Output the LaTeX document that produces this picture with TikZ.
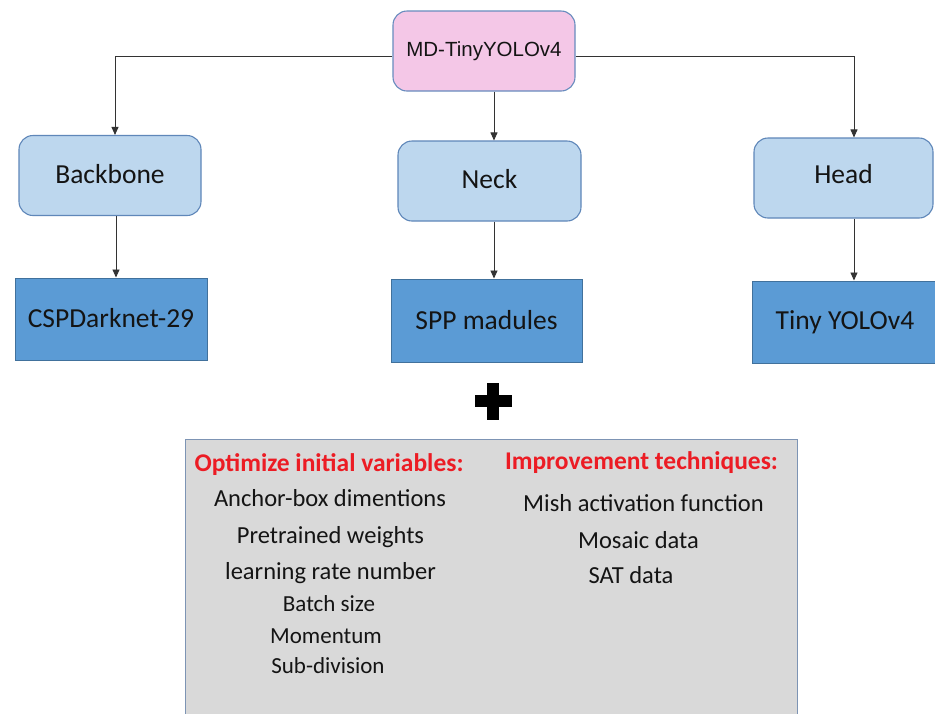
\documentclass[tikz,border=0pt]{standalone}
\usepackage{fontspec}
\setmainfont{Carlito}
\newfontfamily\arialf{Liberation Sans}
\usetikzlibrary{arrows.meta}
\definecolor{pinkfill}{RGB}{244,199,231}
\definecolor{pinkdraw}{RGB}{104,140,190}
\definecolor{lightfill}{RGB}{189,215,238}
\definecolor{lightdraw}{RGB}{95,135,185}
\definecolor{darkfill}{RGB}{91,155,213}
\definecolor{darkdraw}{RGB}{65,113,156}
\definecolor{grayfill}{RGB}{217,217,217}
\definecolor{graydraw}{RGB}{125,148,180}
\definecolor{headred}{RGB}{236,28,36}
\definecolor{txt}{RGB}{20,20,20}
\tikzset{
  topbox/.style={draw=pinkdraw, fill=pinkfill, line width=1.1pt, rounded corners=14pt,
    minimum width=182pt, minimum height=80pt, inner sep=0pt,
    font=\arialf\fontsize{20.5}{24}\selectfont, text=txt},
  midbox/.style={draw=lightdraw, fill=lightfill, line width=1.1pt, rounded corners=14pt,
    minimum height=80pt, inner sep=0pt,
    font=\fontsize{27.5}{32}\selectfont, text=txt},
  lowbox/.style={draw=darkdraw, fill=darkfill, line width=1pt,
    minimum height=82pt, inner sep=0pt,
    font=\fontsize{27.5}{32}\selectfont, text=txt},
  panel/.style={draw=graydraw, fill=grayfill, line width=1pt, inner sep=0pt},
  head/.style={anchor=base, inner sep=0pt, text=headred, font=\bfseries\fontsize{25.5}{30}\selectfont},
  item/.style={anchor=base, inner sep=0pt, text=txt, font=\fontsize{24.5}{29}\selectfont},
  smallitem/.style={anchor=base, inner sep=0pt, text=txt, font=\fontsize{23}{27}\selectfont},
  conn/.style={draw=black!80, line width=0.9pt},
  arr/.style={conn, -{Triangle[length=8pt,width=7pt]}},
}
\begin{document}
\begin{tikzpicture}[x=1pt,y=-1pt]
\useasboundingbox (0,0) rectangle (935,713);
\fill[white] (0,0) rectangle (935,713);

% top node
\node[topbox] (top) at (484,51) {\raisebox{1pt}{MD-TinyYOLOv4}};

% middle nodes
\node[midbox, minimum width=182pt] (backbone) at (110,175.5) {\raisebox{3.5pt}{Backbone}};
\node[midbox, minimum width=183pt] (neck) at (489.5,181) {\raisebox{4pt}{Neck}};
\node[midbox, minimum width=179pt] (headn) at (843.5,178) {\raisebox{8pt}{Head}};

% bottom nodes
\node[lowbox, minimum width=192pt] (csp) at (111,319) {\raisebox{2pt}{CSPDarknet-29}};
\node[lowbox, minimum width=191pt, minimum height=83pt] (spp) at (486.5,320.5) {\raisebox{1.5pt}{SPP madules}};
\node[lowbox, minimum width=186pt] (tiny) at (845,322) {\raisebox{2pt}{Tiny YOLOv4}};

% connectors
\draw[arr] ([yshift=-5pt]top.west) -| ([xshift=5pt]backbone.north);
\draw[arr] ([yshift=-5pt]top.east) -| ([xshift=10.5pt]headn.north);
\draw[arr] ([xshift=4.5pt]neck.north |- top.south) -- ([xshift=4.5pt]neck.north);
\draw[arr] ([xshift=6pt]backbone.south) -- ([xshift=6pt]backbone.south |- csp.north);
\draw[arr] ([xshift=4.5pt]neck.south) -- ([xshift=4.5pt]neck.south |- spp.north);
\draw[arr] ([xshift=10.5pt]headn.south) -- ([xshift=10.5pt]headn.south |- tiny.north);

% plus sign
\fill[black] (475,395) rectangle (512,407);
\fill[black] (487,383) rectangle (499,420);

% gray panel
\node[panel, minimum width=612pt, minimum height=290pt] (panel) at (491,584) {};

\node[head] (h1) at (329,471) {Optimize initial variables:};
\node[item] (l1) at (330,506) {Anchor-box dimentions};
\node[item] (l2) at (330.5,543) {Pretrained weights};
\node[item] (l3) at (330.5,579) {learning rate number};
\node[smallitem] (l4) at (329,611.5) {Batch size};
\node[smallitem] (l5) at (326,643) {Momentum};
\node[smallitem] (l6) at (328,673) {Sub-division};

\node[head] (h2) at (641.5,469) {Improvement techniques:};
\node[item] (r1) at (643.5,511) {Mish activation function};
\node[item] (r2) at (638.5,548) {Mosaic data};
\node[item] (r3) at (631,583) {SAT data};
\end{tikzpicture}
\end{document}
